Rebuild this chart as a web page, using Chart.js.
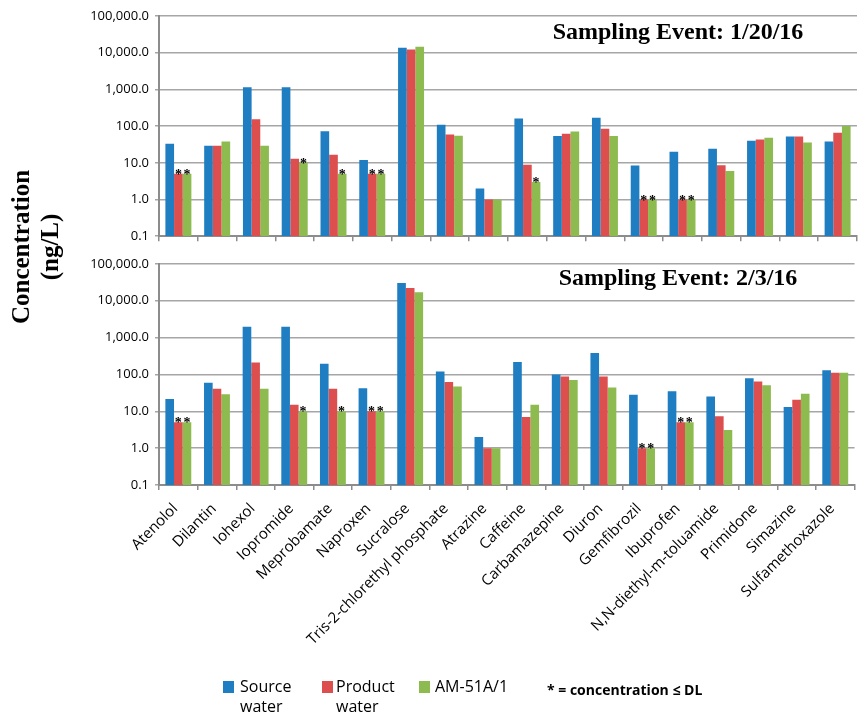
<!DOCTYPE html>
<html>
<head>
<meta charset="utf-8">
<script src="https://cdn.jsdelivr.net/npm/chart.js@4"></script>
<style>
body{margin:0;background:#fff;}
#wrap{position:relative;width:858px;height:720px;overflow:hidden;}
.cv{position:absolute;left:0;}
#ytitle{position:absolute;left:-65px;top:218px;width:200px;height:58px;transform:rotate(-90deg);
 font:bold 25px "Liberation Serif",serif;line-height:29px;text-align:center;color:#000;}
.sq{position:absolute;width:11px;height:12px;}
.lg{position:absolute;font:16px "Open Sans",sans-serif;line-height:20px;color:#000;}
#note{position:absolute;left:547px;top:680px;font:bold 14px "Open Sans",sans-serif;color:#000;}
</style>
</head>
<body>
<div id="wrap">
<canvas id="chartTop" class="cv" style="top:0" width="858" height="250"></canvas>
<canvas id="chartBottom" class="cv" style="top:250px" width="858" height="470"></canvas>
<div id="ytitle">Concentration<br>(ng/L)</div>
<div class="sq" style="left:223px;top:681px;background:#1f7dc1"></div>
<div class="lg" style="left:240px;top:676px">Source<br>water</div>
<div class="sq" style="left:322px;top:681px;background:#dd4e4e"></div>
<div class="lg" style="left:336px;top:676px">Product<br>water</div>
<div class="sq" style="left:419px;top:681px;background:#8dbb4f"></div>
<div class="lg" style="left:435px;top:676px">AM-51A/1</div>
<div id="note">* = concentration ≤ DL</div>
</div>
<script>
window.addEventListener("load", () => {

/* ========= DATA ========= */

const compounds = ["Atenolol","Dilantin","Iohexol","Iopromide","Meprobamate","Naproxen","Sucralose",
"Tris-2-chlorethyl phosphate","Atrazine","Caffeine","Carbamazepine","Diuron","Gemfibrozil","Ibuprofen",
"N,N-diethyl-m-toluamide","Primidone","Simazine","Sulfamethoxazole"];

const yTicks = [0.1,1,10,100,1000,10000,100000];

// sampling event 1/20/16
const source1  = [33,29,1150,1150,72,12,13600,109,2,160,54,170,8.4,20,24,40,52,38];
const product1 = [5,29,153,12.8,16.7,5,12300,59,1,8.9,62,85,1,1,8.6,43,52,66];
const am1      = [5,38,29,10,5,5,14500,55,1,3,71,54,1,1,6,48,36,100];
const productDL1 = [0,5,12,13];
const amDL1      = [0,3,4,5,9,12,13];

// sampling event 2/3/16
const source2  = [21.5,59,1960,1960,196,42,30000,120,2,218,100,380,28,35,25,79,13,130];
const product2 = [5,41,209,15,41,10,22000,62,1,7,88,88,1,5,7.3,64,20.5,110];
const am2      = [5,29,41,10,10,10,16800,47,1,15,71,44,1,5,3.1,51,30,110];
const productDL2 = [0,5,12,13];
const amDL2      = [0,3,4,5,12,13];

const BLUE="#1f7dc1", RED="#dd4e4e", GREEN="#8dbb4f";

/* ========= PLUGINS ========= */

const starPlugin={
id:"stars",
afterDatasetsDraw(chart){
const ctx=chart.ctx;
ctx.save();
ctx.fillStyle="#000";
ctx.font='bold 14px "Liberation Serif"';
ctx.textAlign="center";
ctx.textBaseline="alphabetic";
chart.data.datasets.forEach((ds,di)=>{
if(!ds.dl) return;
const meta=chart.getDatasetMeta(di);
ds.dl.forEach(i=>{
const bar=meta.data[i];
ctx.fillText("*",bar.x,bar.y+5);
});
});
ctx.restore();
}
};

const eventTitlePlugin={
id:"eventTitle",
afterDraw(chart,args,opts){
const ctx=chart.ctx;
ctx.save();
ctx.fillStyle="#000";
ctx.font='bold 24px "Liberation Serif"';
ctx.textAlign="center";
ctx.textBaseline="middle";
ctx.fillText(opts.text,opts.x,opts.y);
ctx.restore();
}
};

/* ========= CHART CREATOR ========= */

function createChart(id,title,titleY,src,prod,am,prodDL,amDL,showLabels,topPad,xHeight){
const ctx=document.getElementById(id).getContext("2d");
return new Chart(ctx,{
type:"bar",
data:{
labels:compounds,
datasets:[
{label:"Source water",data:src,backgroundColor:BLUE},
{label:"Product water",data:prod,backgroundColor:RED,dl:prodDL},
{label:"AM-51A/1",data:am,backgroundColor:GREEN,dl:amDL}
]
},
options:{
responsive:false,
animation:false,
layout:{padding:{top:topPad,right:1,left:0,bottom:0}},
datasets:{bar:{categoryPercentage:0.67,barPercentage:1,borderWidth:0}},
plugins:{
legend:{display:false},
tooltip:{enabled:false},
eventTitle:{text:title,x:678,y:titleY}
},
scales:{
x:{
offset:true,
grid:{drawOnChartArea:false,tickLength:5,color:"#8c8c8c",lineWidth:1.5},
border:{color:"#8c8c8c",width:2},
ticks:{display:showLabels,minRotation:45,maxRotation:45,autoSkip:false,padding:10,labelOffset:-3,
color:"#000",font:{family:"Open Sans",size:15}},
afterFit(s){s.height=xHeight;}
},
y:{
type:"logarithmic",
min:0.1,max:100000,
grid:{color:"#a6a6a6",lineWidth:1.5,tickLength:4},
border:{color:"#8c8c8c",width:2},
ticks:{padding:6,color:"#000",font:{family:"Open Sans",size:13},
callback:v=>v.toLocaleString("en-US",{minimumFractionDigits:1,maximumFractionDigits:1})},
afterBuildTicks(s){s.ticks=yTicks.map(v=>({value:v}));},
afterFit(s){s.width=159;}
}
}
},
plugins:[starPlugin,eventTitlePlugin]
});
}

createChart("chartTop","Sampling Event: 1/20/16",33,source1,product1,am1,productDL1,amDL1,false,16,13);
createChart("chartBottom","Sampling Event: 2/3/16",29,source2,product2,am2,productDL2,amDL2,true,13,235);

});
</script>
</body>
</html>
